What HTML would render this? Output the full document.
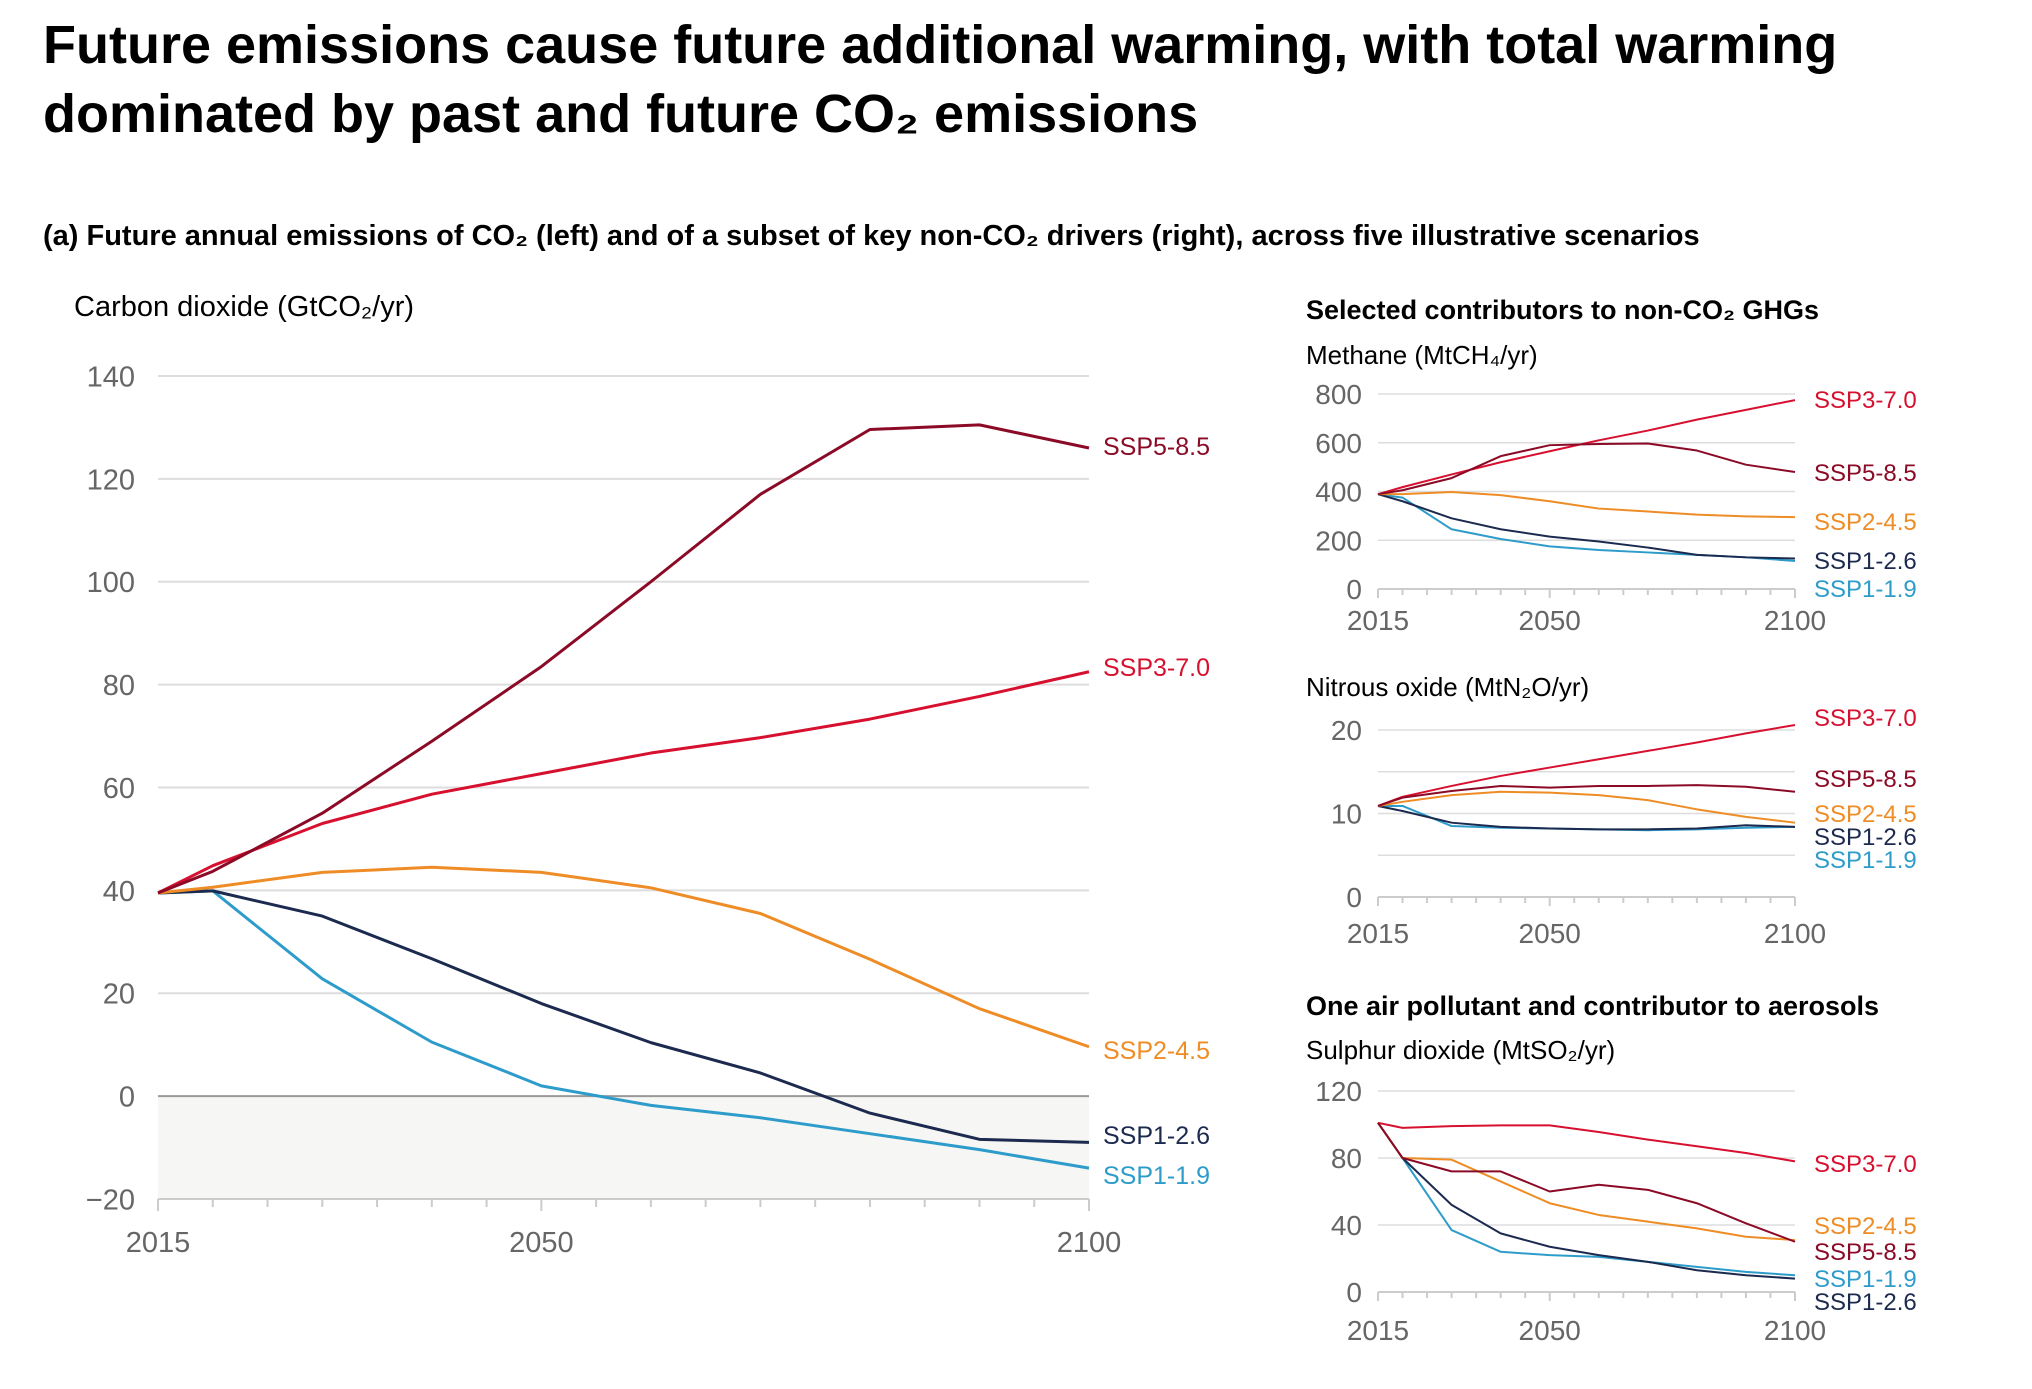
<!DOCTYPE html>
<html><head><meta charset="utf-8"><style>
body{margin:0;background:#fff;}
svg{display:block;font-family:"Liberation Sans",sans-serif;}
.t{fill:#000}
</style></head><body>
<svg id="chart" width="2032" height="1389" viewBox="0 0 2032 1389" xmlns="http://www.w3.org/2000/svg">
<text x="43" y="63" font-size="54" font-weight="bold" class="t">Future emissions cause future additional warming, with total warming</text>
<text x="43" y="132" font-size="54" font-weight="bold" class="t">dominated by past and future CO₂ emissions</text>
<text x="43" y="245" font-size="29" font-weight="bold" class="t">(a) Future annual emissions of CO₂ (left) and of a subset of key non-CO₂ drivers (right), across five illustrative scenarios</text>
<text x="74" y="316" font-size="29" class="t">Carbon dioxide (GtCO₂/yr)</text>
<text x="1306" y="319" font-size="27" font-weight="bold" class="t">Selected contributors to non-CO₂ GHGs</text>
<text x="1306" y="364" font-size="26" class="t">Methane (MtCH₄/yr)</text>
<text x="1306" y="696" font-size="26" class="t">Nitrous oxide (MtN₂O/yr)</text>
<text x="1306" y="1015" font-size="27" font-weight="bold" class="t">One air pollutant and contributor to aerosols</text>
<text x="1306" y="1059" font-size="26" class="t">Sulphur dioxide (MtSO₂/yr)</text>
<g id="plots"></g>
</svg>
<script>
const years=[2015,2020,2030,2040,2050,2060,2070,2080,2090,2100];
const scenarios=["SSP1-1.9","SSP1-2.6","SSP2-4.5","SSP3-7.0","SSP5-8.5"];
const colors={"SSP1-1.9":"#2e9cca","SSP1-2.6":"#1b2a4e","SSP2-4.5":"#ee8c26","SSP3-7.0":"#d7102f","SSP5-8.5":"#8b0a26"};
const co2_119=[39.5,39.9,22.8,10.5,2,-1.8,-4.2,-7.3,-10.4,-14];
const co2_126=[39.5,39.9,35,26.7,18,10.4,4.5,-3.3,-8.4,-9];
const co2_245=[39.5,40.6,43.5,44.5,43.5,40.5,35.5,26.6,17,9.6];
const co2_370=[39.5,44.8,53,58.7,62.7,66.7,69.7,73.3,77.7,82.5];
const co2_585=[39.5,43.7,55,69,83.5,100,117,129.6,130.5,126];
const ch4_119=[389,375,245,205,175,160,150,140,130,115];
const ch4_126=[389,360,290,245,215,195,170,140,130,125];
const ch4_245=[389,389,398,385,360,330,318,305,298,295];
const ch4_370=[389,418,470,520,565,610,650,695,735,775];
const ch4_585=[389,405,455,545,590,595,597,568,510,480];
const n2o_119=[10.9,10.9,8.5,8.3,8.2,8.1,8.0,8.1,8.3,8.4];
const n2o_126=[10.9,10.3,8.9,8.4,8.2,8.1,8.1,8.2,8.6,8.4];
const n2o_245=[10.9,11.4,12.2,12.6,12.5,12.2,11.6,10.5,9.6,8.9];
const n2o_370=[10.9,12,13.3,14.5,15.5,16.5,17.5,18.5,19.6,20.6];
const n2o_585=[10.9,11.9,12.7,13.3,13.1,13.3,13.3,13.4,13.2,12.6];
const so2_119=[101,80,37,24,22,21,18,15,12,10];
const so2_126=[101,80,52,35,27,22,18,13,10,8];
const so2_245=[101,80,79,66,53,46,42,38,33,31];
const so2_370=[101,98,99,99.5,99.5,95.5,91,87,83,78];
const so2_585=[101,80,72,72,60,64,61,53,41,30];
const co2Ticks=[-20,0,20,40,60,80,100,120,140];
const ch4Ticks=[0,200,400,600,800];
const n2oTicks=[0,10,20];
const so2Ticks=[0,40,80,120];
const xTicks=[2015,2050,2100];

const NS="http://www.w3.org/2000/svg";
const root=document.getElementById('plots');
function mk(tag,attrs,parent){const e=document.createElementNS(NS,tag);for(const k in attrs)e.setAttribute(k,attrs[k]);(parent||root).appendChild(e);return e;}

function panel(cfg){
  const g=mk('g',{});
  
  
  const x=v=>cfg.x0+(v-2015)/85*(cfg.x1-cfg.x0);
  const y=v=>cfg.y0-(v-cfg.ymin)/(cfg.ymax-cfg.ymin)*(cfg.y0-cfg.y1);
  if(cfg.shade){const r=mk('rect',{x:cfg.x0,y:y(0),width:cfg.x1-cfg.x0,height:cfg.y0-y(0),fill:'#f6f6f4'},g);
    
    }
  cfg.grid.forEach(v=>{const l=mk('line',{x1:cfg.x0,x2:cfg.x1,y1:y(v),y2:y(v),stroke:v===0&&cfg.shade?'#999':'#ddd','stroke-width':cfg.sw},g);
    
    });
  cfg.ticks.forEach(v=>{const t=mk('text',{x:cfg.lx,y:y(v)+cfg.fs*0.36,'text-anchor':'end','font-size':cfg.fs,fill:'#666'},g);t.textContent=v<0?'\u2212'+(-v):v;
    
    });
  const ax=mk('line',{x1:cfg.x0,x2:cfg.x1,y1:cfg.y0,y2:cfg.y0,stroke:'#ccc','stroke-width':2},g);
  
  
  for(let yr=2015;yr<=2100;yr+=5){const big=xTicks.includes(yr);const tk=mk('line',{x1:x(yr),x2:x(yr),y1:cfg.y0,y2:cfg.y0+(big?cfg.tl*1.5:cfg.tl),stroke:'#ccc','stroke-width':2},g);
    
    }
  xTicks.forEach(v=>{const t=mk('text',{x:x(v),y:cfg.xly,'text-anchor':'middle','font-size':cfg.fs,fill:'#666'},g);t.textContent=v;
    
    });
  scenarios.forEach((s,i)=>{const d=cfg.series[i];
    const p=mk('polyline',{points:years.map((yr,j)=>x(yr)+','+y(d[j])).join(' '),fill:'none',stroke:colors[s],'stroke-width':cfg.lw,'stroke-linejoin':'round'},g);
    
    
    const t=mk('text',{x:cfg.labx,y:cfg.laby[i],'font-size':cfg.lfs,fill:colors[s]},g);t.textContent=s;
    
    });
}
panel({name:'co2',x0:158,x1:1089,y0:1199,y1:376,ymin:-20,ymax:140,grid:[20,40,60,80,100,120,140,0],ticks:co2Ticks,lx:135,fs:29,xly:1252,tl:8,sw:2,lw:3,shade:true,
  series:[co2_119,co2_126,co2_245,co2_370,co2_585],labx:1103,laby:[1184,1144,1059,676,455],lfs:25});
panel({name:'methane',x0:1378,x1:1795,y0:589,y1:394,ymin:0,ymax:800,grid:[200,400,600,800],ticks:ch4Ticks,lx:1362,fs:28,xly:630,tl:6,sw:1.5,lw:2,
  series:[ch4_119,ch4_126,ch4_245,ch4_370,ch4_585],labx:1814,laby:[597,569,530,408,481],lfs:24});
panel({name:'n2o',x0:1378,x1:1795,y0:897,y1:730,ymin:0,ymax:20,grid:[5,10,15,20],ticks:n2oTicks,lx:1362,fs:28,xly:943,tl:6,sw:1.5,lw:2,
  series:[n2o_119,n2o_126,n2o_245,n2o_370,n2o_585],labx:1814,laby:[868,845,822,726,787],lfs:24});
panel({name:'so2',x0:1378,x1:1795,y0:1292,y1:1091,ymin:0,ymax:120,grid:[40,80,120],ticks:so2Ticks,lx:1362,fs:28,xly:1340,tl:6,sw:1.5,lw:2,
  series:[so2_119,so2_126,so2_245,so2_370,so2_585],labx:1814,laby:[1287,1310,1234,1172,1260],lfs:24});
</script>
</body></html>
